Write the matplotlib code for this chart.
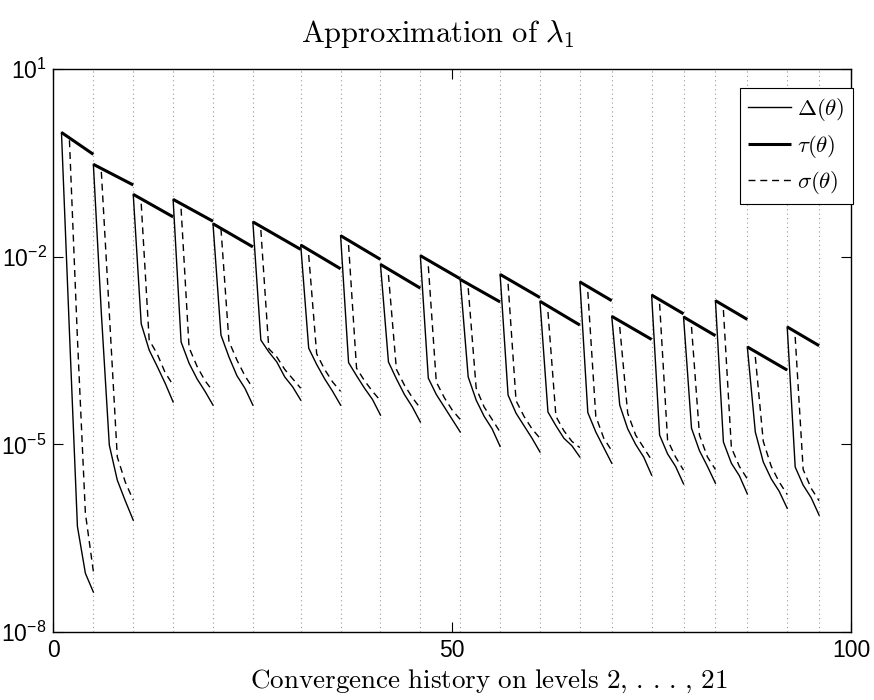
import matplotlib
matplotlib.use("Agg")
import matplotlib.pyplot as plt
from matplotlib.font_manager import FontProperties

plt.rcParams['font.family'] = ['Liberation Sans', 'DejaVu Sans']
plt.rcParams['mathtext.fontset'] = 'custom'
plt.rcParams['mathtext.rm'] = 'Liberation Sans'
plt.rcParams['mathtext.it'] = 'Liberation Sans:italic'

# iteration index where each level starts (level 2 ... 21)
level_start = [1, 5, 10, 15, 20, 25, 31, 36, 41, 46, 51, 56, 61, 66, 70, 75, 79, 83, 87, 92]
level_end = [5, 10, 15, 20, 25, 31, 36, 41, 46, 51, 56, 61, 66, 70, 75, 79, 83, 87, 92, 96]

# log10 of tau at start / end of each level
tau_first = [-0.01, -0.52, -1.00, -1.08, -1.47, -1.44, -1.81, -1.66, -2.12, -1.98,
             -2.36, -2.28, -2.71, -2.40, -2.95, -2.61, -2.96, -2.70, -3.44, -3.12]
tau_last = [-0.36, -0.85, -1.36, -1.43, -1.84, -1.88, -2.19, -2.04, -2.50, -2.35,
            -2.72, -2.65, -3.09, -2.70, -3.32, -2.91, -3.26, -3.00, -3.81, -3.42]

# log10 of Delta, one value per iteration from level_start to level_end
delta = [
    [-0.01, -3.2, -6.31, -7.06, -7.36],
    [-0.52, -2.9, -5.01, -5.57, -5.9, -6.21],
    [-1.00, -3.07, -3.49, -3.75, -4.02, -4.32],
    [-1.08, -3.36, -3.7, -3.95, -4.15, -4.37],
    [-1.47, -3.25, -3.6, -3.9, -4.1, -4.37],
    [-1.44, -3.33, -3.52, -3.68, -3.92, -4.08, -4.29],
    [-1.81, -3.46, -3.72, -3.95, -4.15, -4.37],
    [-1.66, -3.69, -3.9, -4.1, -4.28, -4.53],
    [-2.12, -3.68, -3.95, -4.2, -4.4, -4.64],
    [-1.98, -3.94, -4.2, -4.4, -4.6, -4.80],
    [-2.36, -3.92, -4.29, -4.55, -4.75, -5.03],
    [-2.28, -4.21, -4.5, -4.7, -4.9, -5.12],
    [-2.71, -4.48, -4.7, -4.9, -5.02, -5.20],
    [-2.40, -4.49, -4.8, -5.05, -5.30],
    [-2.95, -4.37, -4.75, -5.0, -5.2, -5.49],
    [-2.61, -4.85, -5.15, -5.35, -5.63],
    [-2.96, -4.74, -5.1, -5.35, -5.62],
    [-2.70, -4.96, -5.3, -5.5, -5.79],
    [-3.44, -4.80, -5.28, -5.55, -5.75, -6.02],
    [-3.12, -5.36, -5.65, -5.85, -6.13],
]

# log10 of sigma, one value per iteration from level_start+1 to level_end
sigma = [
    [-0.135, -3.3, -6.1, -7.03],
    [-0.64, -2.9, -5.2, -5.6, -5.89],
    [-1.15, -3.33, -3.55, -3.85, -4.05],
    [-1.23, -3.45, -3.75, -3.98, -4.15],
    [-1.55, -3.35, -3.65, -3.9, -4.1],
    [-1.57, -3.47, -3.6, -3.8, -3.95, -4.1],
    [-1.97, -3.55, -3.8, -4.0, -4.15],
    [-1.81, -3.78, -3.98, -4.15, -4.3],
    [-2.29, -3.8, -4.05, -4.25, -4.42],
    [-2.15, -4.0, -4.25, -4.45, -4.6],
    [-2.5, -4.1, -4.4, -4.6, -4.8],
    [-2.43, -4.3, -4.55, -4.75, -4.9],
    [-2.88, -4.55, -4.78, -4.95, -5.05],
    [-2.56, -4.55, -4.9, -5.1],
    [-3.12, -4.5, -4.85, -5.05, -5.25],
    [-2.75, -4.93, -5.2, -5.41],
    [-3.12, -4.85, -5.2, -5.4],
    [-2.85, -5.05, -5.35, -5.55],
    [-3.6, -4.95, -5.35, -5.6, -5.8],
    [-3.28, -5.4, -5.7, -5.9],
]

fig = plt.figure(figsize=(8.74, 7.0), dpi=100)
ax = fig.add_axes([0.0612, 0.097, 0.9125, 0.804])
ax.set_yscale('log')

for xb in level_end:
    ax.axvline(xb, color='#999999', linestyle=(0, (1, 3)), linewidth=0.8, zorder=0)

for i in range(len(level_start)):
    s, e = level_start[i], level_end[i]
    xs = list(range(s, e + 1))
    l1, = ax.plot(xs, [10 ** v for v in delta[i]], color='black', linewidth=1.0)
    l2, = ax.plot([s, e], [10 ** tau_first[i], 10 ** tau_last[i]], color='black', linewidth=2.2,
                  solid_capstyle='butt')
    l3, = ax.plot(xs[1:], [10 ** v for v in sigma[i]], color='black', linewidth=1.0,
                  linestyle=(0, (5, 3.5)))

ax.set_xlim(0, 100)
ax.set_ylim(1e-8, 1e1)
ax.set_xticks([0, 50, 100])
ax.set_xticklabels(['0', '50', '100'])
ax.set_yticks([1e-8, 1e-5, 1e-2, 1e1])
ax.set_yticklabels(['10$^{-8}$', '10$^{-5}$', '10$^{-2}$', '10$^{1}$'])
ax.minorticks_off()
ax.tick_params(direction='in', length=7, width=0.8, labelsize=16.5, top=True, right=True, pad=5)
for sp in ax.spines.values():
    sp.set_linewidth(1.0)

ax.set_title(r'$\mathrm{Approximation\ of\ }\lambda_1$',
             fontproperties=FontProperties(size=22, math_fontfamily='cm'), pad=20, x=0.481)
ax.set_xlabel(r'$\mathrm{Convergence\ history\ on\ levels\ }2,\,.\,.\,.\,,\,21$',
              fontproperties=FontProperties(size=19.5, math_fontfamily='cm'), labelpad=4)
ax.xaxis.set_label_coords(0.546, -0.062)
ax.xaxis.label.set_verticalalignment('top')

leg = ax.legend([l1, l2, l3], [r'$\Delta(\theta)$', r'$\tau(\theta)$', r'$\sigma(\theta)$'],
                loc='upper right', prop=FontProperties(size=16.5, math_fontfamily='cm'),
                frameon=True, fancybox=False, edgecolor='black', framealpha=1,
                handlelength=1.9, handletextpad=0.25, labelspacing=0.4, borderpad=0.35,
                borderaxespad=0.0, bbox_to_anchor=(1.002, 0.966))
leg.get_frame().set_linewidth(0.8)

fig.savefig('out.png', dpi=100)
